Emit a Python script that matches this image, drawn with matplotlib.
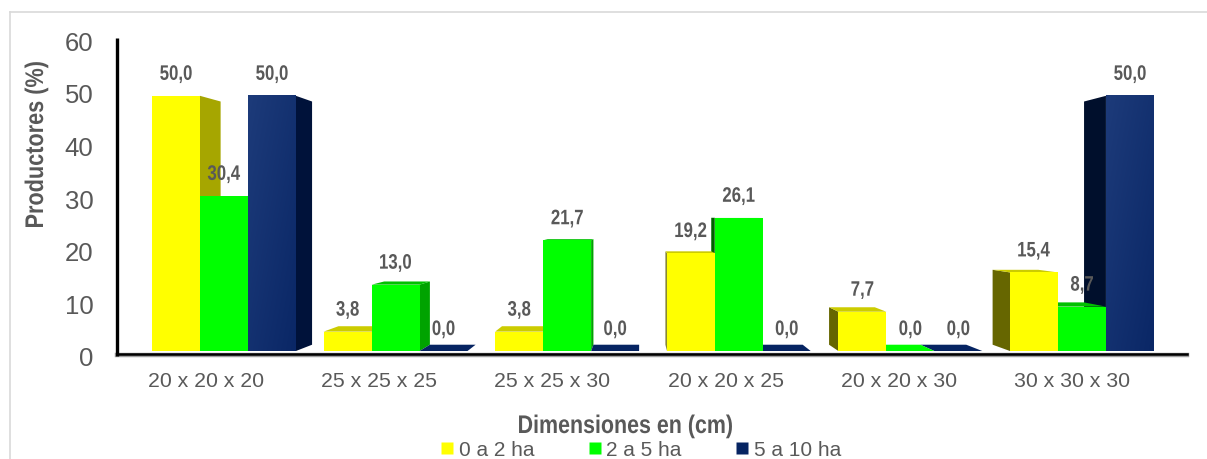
import numpy as np
import matplotlib.pyplot as plt
from matplotlib.patches import Polygon, Rectangle, PathPatch
from matplotlib.lines import Line2D
from matplotlib.textpath import TextPath
from matplotlib.font_manager import FontProperties
from matplotlib.transforms import Affine2D
from matplotlib.colors import LinearSegmentedColormap

# datos del grafico
categorias = ["20 x 20 x 20", "25 x 25 x 25", "25 x 25 x 30",
              "20 x 20 x 25", "20 x 20 x 30", "30 x 30 x 30"]
series = ["0 a 2 ha", "2 a 5 ha", "5 a 10 ha"]
v_0a2 = [50.0, 3.8, 3.8, 19.2, 7.7, 15.4]
v_2a5 = [30.4, 13.0, 21.7, 26.1, 0.0, 8.7]
v_5a10 = [50.0, 0.0, 0.0, 0.0, 0.0, 50.0]
ticks_y = [0, 10, 20, 30, 40, 50, 60]

valores = [v_0a2, v_2a5, v_5a10]

# colores: frente, lado derecho, lado izquierdo, tapa
colores = [
    ("#FFFF00", "#A6A600", "#666600", "#CCCC00"),
    ("#00FF00", "#00A300", "#006000", "#00C000"),
    ("#062462", "#00123A", "#000F2C", "#0A2A6A"),
]
gris = "#595959"
plt.rcParams['font.family'] = ["Liberation Sans", "DejaVu Sans"]
fp_bold = FontProperties(family="Liberation Sans", weight="bold")

W, H = 1207, 459
fig = plt.figure(figsize=(W / 100, H / 100), dpi=100)


def texto_angosto(x, y, s, em, fx, ha="center", rot=0):
    # texto en negrita comprimido a lo ancho (x, y en pixeles desde arriba, y = linea base)
    tp = TextPath((0, 0), s, size=em, prop=fp_bold)
    ext = tp.get_extents()
    dx = -(ext.x0 + ext.x1) / 2 if ha == "center" else -ext.x0
    tr = Affine2D().translate(dx, 0).scale(fx, 1).rotate_deg(rot).translate(x, H - y)
    fig.add_artist(PathPatch(tp, transform=tr, fc=gris, ec="none", lw=0))


# area del grafico en pixeles
px_l, px_r, px_t, px_b = 117, 1187, 38, 357
ax = fig.add_axes([px_l / W, (H - px_b) / H, (px_r - px_l) / W, (px_b - px_t) / H])

# escala: grupo 0 en x=206 px, 173.2 px por grupo; 0 en y=352 px, 5.12 px por unidad
x0_px, dx_px = 206, 173.2
y0_px, dy_px = 352, 5.12
xlim = ((px_l - x0_px) / dx_px, (px_r - x0_px) / dx_px)
ylim = ((y0_px - px_b) / dy_px, (y0_px - px_t) / dy_px)

# punto de fuga de la perspectiva
vp = np.array([2.506, 26.3])
prof = 0.047

ancho = 0.277
inicio = -0.312
paso = 0.9908

def atras(p):
    p = np.array(p, dtype=float)
    return p + prof * (vp - p)

barras = []
for j, vals in enumerate(valores):
    for i, v in enumerate(vals):
        xa = inicio + i * paso + j * ancho
        barras.append((xa, xa + ancho, v, j))

degr = LinearSegmentedColormap.from_list("azul", ["#0A2766", "#1D3B7A"])

# dibujar primero las barras mas alejadas del punto de fuga
barras.sort(key=lambda b: -abs((b[0] + b[1]) / 2 - vp[0]))
for z, (xa, xb, h, j) in enumerate(barras):
    fr, lado_d, lado_i, tapa = colores[j]
    zo = 2 + z * 0.01
    if xb < vp[0]:
        pts = [(xb, 0), (xb, h), atras((xb, h)), atras((xb, 0))]
        ax.add_patch(Polygon(pts, closed=True, fc=lado_d, ec='none', zorder=zo))
    elif xa > vp[0]:
        pts = [(xa, 0), (xa, h), atras((xa, h)), atras((xa, 0))]
        ax.add_patch(Polygon(pts, closed=True, fc=lado_i, ec='none', zorder=zo))
    if h < vp[1]:
        pts = [(xa, h), (xb, h), atras((xb, h)), atras((xa, h))]
        c = fr if h == 0 else tapa
        ax.add_patch(Polygon(pts, closed=True, fc=c, ec='none', zorder=zo))
    if h > 0:
        ax.add_patch(Rectangle((xa, 0), xb - xa, h, fc=fr, ec='none', zorder=zo + 0.005))
        if j == 2:
            g = np.linspace(0, 1, 60)
            grad = np.add.outer(g, 1 - g) / 2
            ax.imshow(grad, cmap=degr, extent=(xa, xb, 0, h), origin="lower",
                      aspect="auto", zorder=zo + 0.006, interpolation="bilinear")

ax.set_xlim(xlim)
ax.set_ylim(ylim)

# ejes
for s in ax.spines.values():
    s.set_visible(False)
ax.plot([xlim[0], xlim[0]], [ylim[0], ylim[1]], color="black", lw=2.4, clip_on=False,
        solid_capstyle="butt", zorder=5)
ax.plot(xlim, [ylim[0] + 0.25, ylim[0] + 0.25], color="#A0A0A0", lw=3.2, clip_on=False, zorder=4)
ax.plot(xlim, [ylim[0] + 0.45, ylim[0] + 0.45], color="black", lw=1.8, clip_on=False, zorder=5)

pos_y = [(-6 + 5.28 * t) / dy_px for t in ticks_y]
ax.set_yticks(pos_y, [str(t) for t in ticks_y])
ax.set_xticks(range(len(categorias)), categorias)
ax.tick_params(axis="y", length=0, pad=17, labelsize=18.5, labelcolor=gris)
ax.tick_params(axis="x", length=0, pad=11, labelsize=15.3, labelcolor=gris)

# etiquetas de valores sobre cada barra
fig.canvas.draw()
for j, vals in enumerate(valores):
    for i, v in enumerate(vals):
        xc = inicio + i * paso + j * ancho + ancho / 2
        px, py = ax.transData.transform((xc, v))
        texto_angosto(px, H - py - 16, f"{v:.1f}".replace(".", ","), 21, 0.8)

# titulos de los ejes
texto_angosto(43, 227, "Productores (%)", 25.5, 0.85, ha="left", rot=90)
texto_angosto(625.5, 433, "Dimensiones en (cm)", 25.5, 0.84)

# leyenda
handles = [Line2D([], [], ls="none", marker="s", markersize=9, mfc=c[0], mec="none")
           for c in colores]
fig.legend(handles, series, loc="center", bbox_to_anchor=(641 / W, 1 - 450 / H),
           ncol=3, frameon=False, fontsize=15, labelcolor=gris, handlelength=0.6,
           handletextpad=0.25, columnspacing=2.6, borderpad=0, borderaxespad=0)

# marco exterior
fig.add_artist(Line2D([10 / W, 10 / W], [0, 1 - 12 / H], color="#D9D9D9", lw=1.2))
fig.add_artist(Line2D([10 / W, 1], [1 - 12 / H, 1 - 12 / H], color="#D9D9D9", lw=1.2))

fig.savefig("out.png", dpi=100, facecolor="white")
